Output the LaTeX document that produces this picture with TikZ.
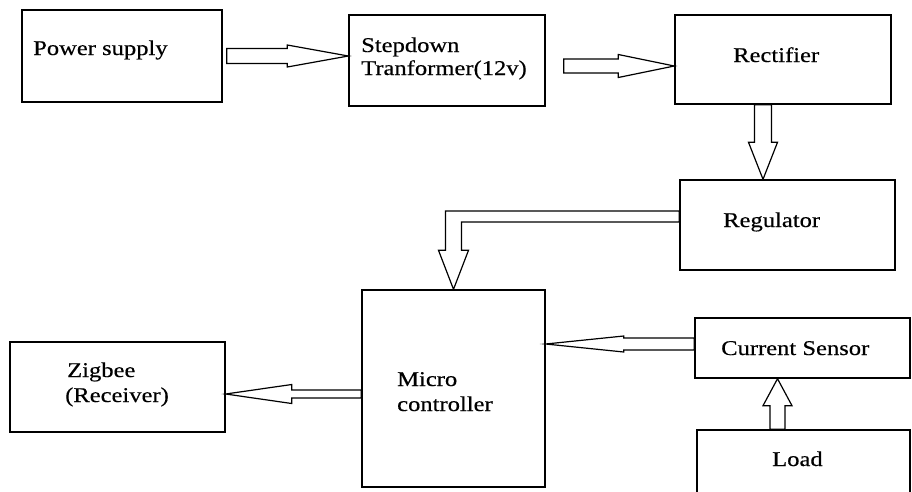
\documentclass[tikz,border=0pt]{standalone}
\usepackage{fontspec}
\setmainfont{Liberation Serif}[FakeStretch=1.17,FakeBold=0.4]
\usetikzlibrary{calc}

% outlined block arrow: from, to, shaft half width, head half width, head length
\newcommand{\blockarrow}[5]{%
  \path (#1) coordinate (ba-s) (#2) coordinate (ba-t)
        ($(ba-t)!#5!(ba-s)$) coordinate (ba-h);
  \draw[blockarrow] ($(ba-s)!#3!90:(ba-t)$) -- ($(ba-h)!#3!90:(ba-t)$)
        -- ($(ba-h)!#4!90:(ba-t)$) -- (ba-t) -- ($(ba-h)!#4!-90:(ba-t)$)
        -- ($(ba-h)!#3!-90:(ba-t)$) -- ($(ba-s)!#3!-90:(ba-t)$) -- cycle;
}

\begin{document}
\begin{tikzpicture}[x=1pt,y=-1pt,
    box/.style={draw, line width=1.4pt, inner sep=0pt},
    blockarrow/.style={draw, line width=1.2pt, line join=miter, fill=white},
    lbl/.style={anchor=base west, inner sep=0pt, font=\fontsize{21}{25}\selectfont}]
        \useasboundingbox (0,0) rectangle (912,491);
        \clip (0,0) rectangle (912,491);

        % blocks
        \node (power) at (122,56) [box, minimum width=200pt, minimum height=92pt] {};
        \node (stepdown) at (447,60.5) [box, minimum width=196pt, minimum height=91pt] {};
        \node (rectifier) at (783,59.5) [box, minimum width=216pt, minimum height=89pt] {};
        \node (regulator) at (787.5,225) [box, minimum width=215pt, minimum height=90pt] {};
        \node (micro) at (453.5,388.5) [box, minimum width=183pt, minimum height=197pt] {};
        \node (zigbee) at (117.5,387) [box, minimum width=215pt, minimum height=90pt] {};
        \node (sensor) at (802.5,348) [box, minimum width=215pt, minimum height=60pt] {};
        \node (load) at (803.5,465) [box, minimum width=213pt, minimum height=70pt] {};

        % labels
        \node (powertxt) at (33,55) [lbl] {Power supply};
        \node (steptxt) at (361,52) [lbl] {Stepdown};
        \node (steptxt2) at (361,75) [lbl] {Tranformer(12v)};
        \node (recttxt) at (733,62) [lbl] {Rectifier};
        \node (regtxt) at (723,227) [lbl] {Regulator};
        \node (microtxt) at (397,386) [lbl] {Micro};
        \node (microtxt2) at (397,411) [lbl] {controller};
        \node (zigtxt) at (67,377) [lbl] {Zigbee};
        \node (zigtxt2) at (65,402) [lbl] {(Receiver)};
        \node (sensortxt) at (721,355) [lbl] {Current Sensor};
        \node (loadtxt) at (772,466) [lbl] {Load};

        % arrows
        \coordinate (a1) at ($(power.east)+(4,0)$);
        \blockarrow{a1}{stepdown.west |- a1}{7.5pt}{11pt}{61pt}
        \coordinate (a2) at ($(stepdown.east)+(18,5.5)$);
        \blockarrow{a2}{rectifier.west |- a2}{7pt}{11.5pt}{56pt}
        \coordinate (a3) at ($(rectifier.south)+(-20,0)$);
        \blockarrow{a3}{a3 |- regulator.north}{8.5pt}{14.5pt}{37pt}
        \coordinate (a5) at ($(sensor.west)+(0,-4)$);
        \blockarrow{a5}{micro.east |- a5}{6pt}{8pt}{78pt}
        \coordinate (a6) at ($(micro.west)+(0,5.5)$);
        \blockarrow{a6}{zigbee.east |- a6}{4pt}{9.5pt}{66pt}
        \coordinate (a7) at ($(load.north)+(-26,0)$);
        \blockarrow{a7}{a7 |- sensor.south}{7.5pt}{14.5pt}{27pt}

        % elbow arrow
        \coordinate (e1) at ($(regulator.west)+(0,-14)$);
        \coordinate (e2) at ($(regulator.west)+(0,-3)$);
        \draw[blockarrow] (e1) -| ($(micro.north)+(-8,-39)$) -- ++(-7,0) -- (micro.north)
            -- ($(micro.north)+(15,-39)$) -- ++(-7,0) |- (e2) -- cycle;
\end{tikzpicture}
\end{document}
